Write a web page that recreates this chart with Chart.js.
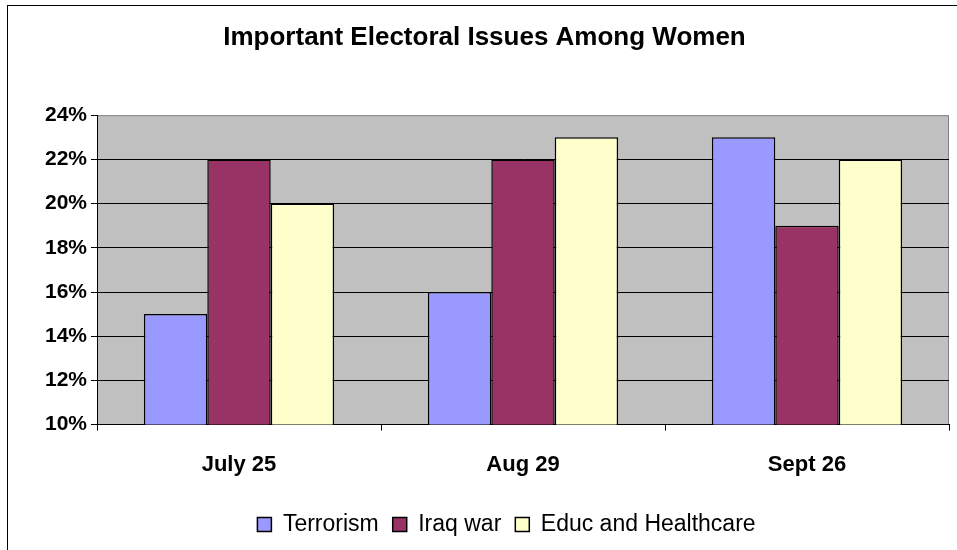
<!DOCTYPE html>
<html lang="en">
<head>
  <meta charset="UTF-8" />
  <title>Important Electoral Issues Among Women</title>
  <script src="https://cdn.jsdelivr.net/npm/chart.js"></script>
  <style>
    body { margin: 0; background: #fff; }
    #wrap { width: 957px; height: 550px; }
  </style>
</head>
<body>
  <div id="wrap"><canvas id="chart" width="957" height="550"></canvas></div>
  <script>
    const categories = ['July 25', 'Aug 29', 'Sept 26'];
    const terrorism = [15, 16, 23];
    const iraqWar = [22, 22, 19];
    const educHealth = [20, 23, 22];

    const FONT = "'Liberation Sans', Arial, sans-serif";

    // gray plot area + outer chart border, like the old Excel look
    const frame = {
      id: 'frame',
      afterLayout(chart) {
        // legend sits a bit right of centre in the original
        chart.legend.left += 22;
        chart.legend.right += 22;
      },
      beforeDraw(chart) {
        const ctx = chart.ctx, a = chart.chartArea;
        ctx.save();
        ctx.fillStyle = '#fff';
        ctx.fillRect(0, 0, chart.width, chart.height);
        ctx.fillStyle = '#C0C0C0';
        ctx.fillRect(a.left, a.top, a.right - a.left, a.bottom - a.top);
        ctx.strokeStyle = '#808080';
        ctx.lineWidth = 1;
        ctx.beginPath();
        ctx.moveTo(a.left, a.top + 0.5);
        ctx.lineTo(a.right - 0.5, a.top + 0.5);
        ctx.lineTo(a.right - 0.5, a.bottom);
        ctx.stroke();
        ctx.strokeStyle = '#000';
        ctx.strokeRect(7.5, 5.5, 1000, 1000);
        ctx.restore();
      }
    };

    new Chart(document.getElementById('chart'), {
      type: 'bar',
      data: {
        labels: categories,
        datasets: [
          { label: 'Terrorism', data: terrorism, backgroundColor: '#9999FF' },
          { label: 'Iraq war', data: iraqWar, backgroundColor: '#993366' },
          { label: 'Educ and Healthcare', data: educHealth, backgroundColor: '#FFFFCC' }
        ]
      },
      options: {
        responsive: false,
        animation: false,
        layout: { padding: { left: 20, right: 8, top: 0, bottom: 4 } },
        datasets: {
          bar: {
            borderColor: '#000',
            borderWidth: 1.5,
            categoryPercentage: 0.67,
            barPercentage: 1
          }
        },
        plugins: {
          title: {
            display: true,
            text: 'Important Electoral Issues Among Women',
            color: '#000',
            font: { family: FONT, size: 26, weight: 'bold' },
            padding: { top: 22, bottom: 62 }
          },
          legend: {
            position: 'bottom',
            labels: {
              color: '#000',
              font: { family: FONT, size: 23 },
              boxWidth: 14,
              boxHeight: 14,
              padding: 14
            }
          },
          tooltip: { enabled: false }
        },
        scales: {
          x: {
            grid: { drawOnChartArea: false, color: '#000', tickLength: 6, offset: true },
            border: { color: '#000', width: 1 },
            ticks: { color: '#000', padding: 21, font: { family: FONT, size: 22, weight: 'bold' } }
          },
          y: {
            min: 10,
            max: 24,
            afterFit(scale) { scale.width = 77; },
            grid: {
              color: ctx => (ctx.tick && ctx.tick.value === 24) ? 'rgba(0,0,0,0)' : '#000',
              tickColor: '#000',
              tickLength: 6
            },
            border: { color: '#000', width: 1 },
            ticks: {
              stepSize: 2,
              color: '#000',
              padding: 4,
              font: { family: FONT, size: 21, weight: 'bold' },
              callback: v => v + '%'
            }
          }
        }
      },
      plugins: [frame]
    });
  </script>
</body>
</html>
